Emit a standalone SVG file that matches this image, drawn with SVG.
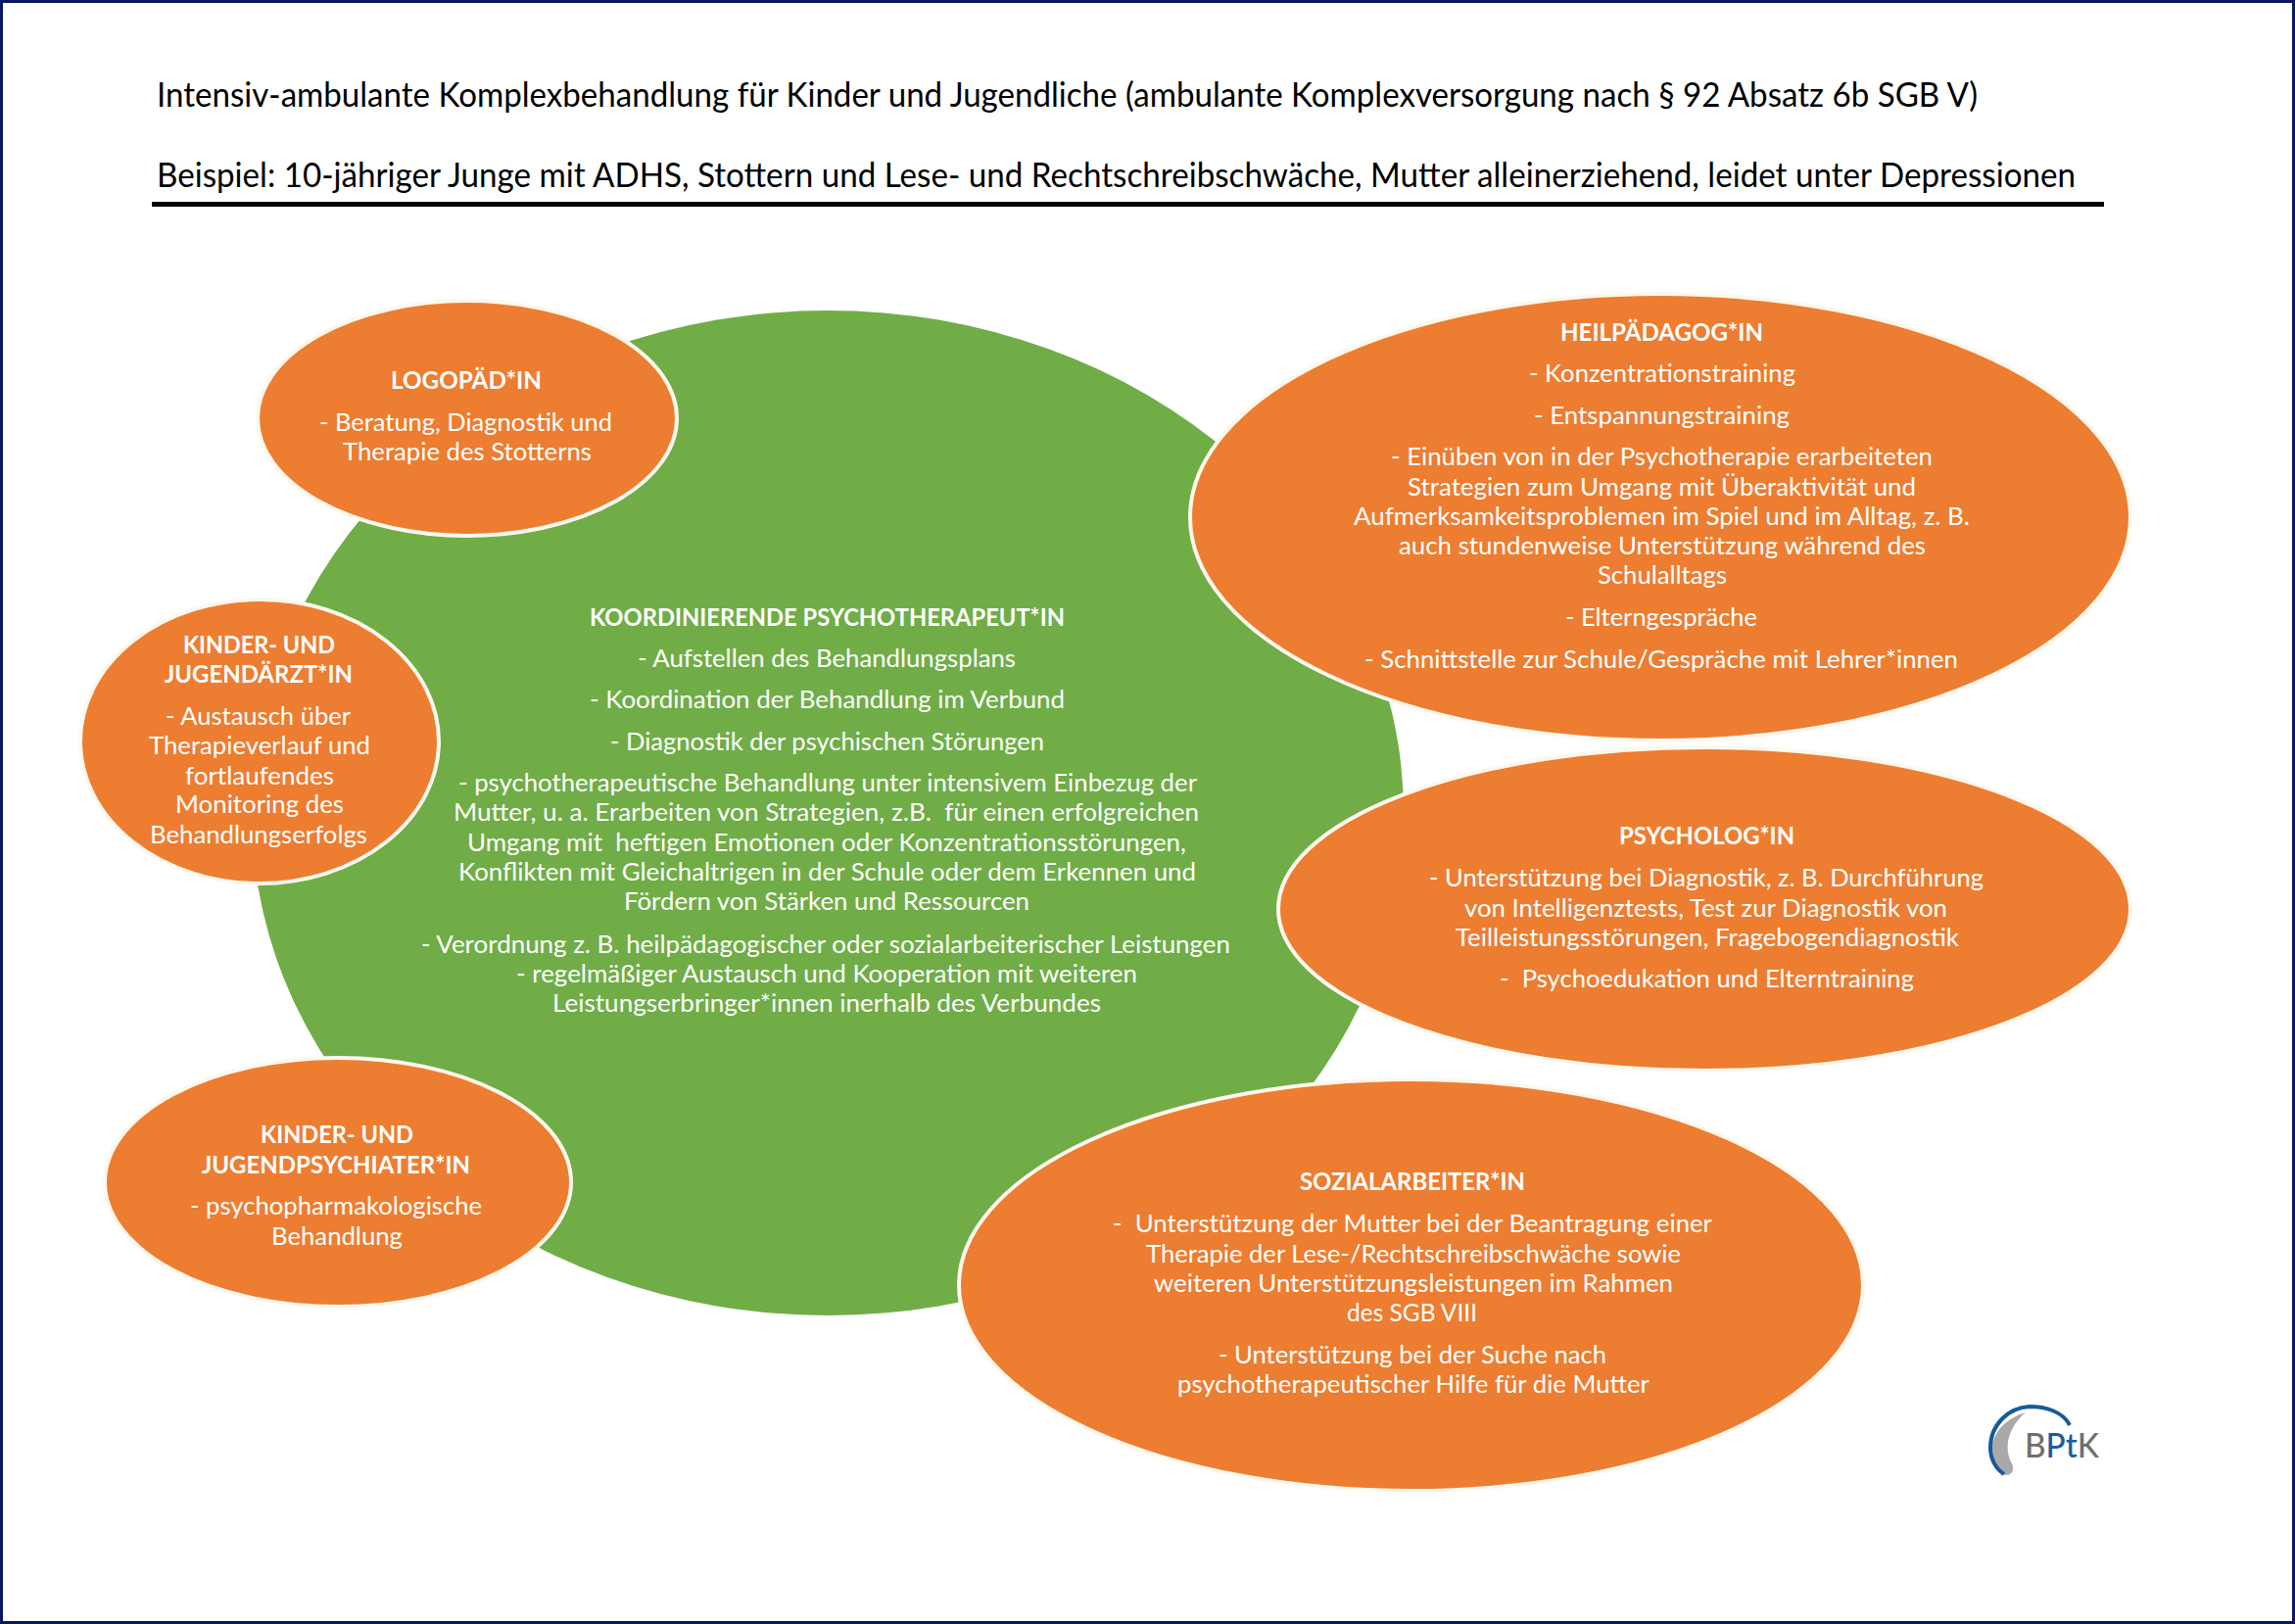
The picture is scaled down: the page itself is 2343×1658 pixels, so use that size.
<svg xmlns="http://www.w3.org/2000/svg" width="2343" height="1658" viewBox="0 0 2343 1658">
<style>
text{font-family:"Lato","Carlito","Liberation Sans",sans-serif;white-space:pre}
.t{font-size:34px;fill:#000}
.b{font-size:25px;fill:#fff}
.h{font-size:25px;font-weight:700;fill:#fff}
.e{fill:#ED7D31;stroke:#fdf8ee;stroke-width:4}
</style>
<rect width="2343" height="1658" fill="#fff"/>
<rect x="1.5" y="1.5" width="2340" height="1655" fill="none" stroke="#0b1a5e" stroke-width="3"/>
<g id="title">
<text class="t" x="160" y="109" textLength="1859" lengthAdjust="spacingAndGlyphs">Intensiv-ambulante Komplexbehandlung für Kinder und Jugendliche (ambulante Komplexversorgung nach § 92 Absatz 6b SGB V)</text>
<text class="t" x="160" y="191" textLength="1959" lengthAdjust="spacingAndGlyphs">Beispiel: 10-jähriger Junge mit ADHS, Stottern und Lese- und Rechtschreibschwäche, Mutter alleinerziehend, leidet unter Depressionen</text>
<rect x="155" y="206" width="1993" height="5" fill="#000"/>
</g>
<g id="koordinierende-psychotherapeutin">
<ellipse cx="845" cy="830" rx="588" ry="513" fill="#70AD47"/>
<text class="h" x="602" y="639" textLength="485" lengthAdjust="spacingAndGlyphs">KOORDINIERENDE PSYCHOTHERAPEUT*IN</text>
<text class="b" x="651" y="681" textLength="386" lengthAdjust="spacingAndGlyphs">- Aufstellen des Behandlungsplans</text>
<text class="b" x="602" y="723" textLength="485" lengthAdjust="spacingAndGlyphs">- Koordination der Behandlung im Verbund</text>
<text class="b" x="623" y="766" textLength="443" lengthAdjust="spacingAndGlyphs">- Diagnostik der psychischen Störungen</text>
<text class="b" x="468" y="808" textLength="754" lengthAdjust="spacingAndGlyphs">- psychotherapeutische Behandlung unter intensivem Einbezug der</text>
<text class="b" x="463" y="838" textLength="761" lengthAdjust="spacingAndGlyphs">Mutter, u. a. Erarbeiten von Strategien, z.B.  für einen erfolgreichen</text>
<text class="b" x="477" y="869" textLength="734" lengthAdjust="spacingAndGlyphs">Umgang mit  heftigen Emotionen oder Konzentrationsstörungen,</text>
<text class="b" x="468" y="899" textLength="753" lengthAdjust="spacingAndGlyphs">Konflikten mit Gleichaltrigen in der Schule oder dem Erkennen und</text>
<text class="b" x="637" y="929" textLength="414" lengthAdjust="spacingAndGlyphs">Fördern von Stärken und Ressourcen</text>
<text class="b" x="430" y="973" textLength="826" lengthAdjust="spacingAndGlyphs">- Verordnung z. B. heilpädagogischer oder sozialarbeiterischer Leistungen</text>
<text class="b" x="527" y="1003" textLength="634" lengthAdjust="spacingAndGlyphs">- regelmäßiger Austausch und Kooperation mit weiteren</text>
<text class="b" x="564" y="1033" textLength="560" lengthAdjust="spacingAndGlyphs">Leistungserbringer*innen inerhalb des Verbundes</text>
</g>
<g id="logopaedin">
<ellipse class="e" cx="477" cy="427" rx="214" ry="120"/>
<text class="h" x="399" y="397" textLength="154" lengthAdjust="spacingAndGlyphs">LOGOPÄD*IN</text>
<text class="b" x="326" y="440" textLength="299" lengthAdjust="spacingAndGlyphs">- Beratung, Diagnostik und</text>
<text class="b" x="350" y="470" textLength="254" lengthAdjust="spacingAndGlyphs">Therapie des Stotterns</text>
</g>
<g id="kinder-und-jugendaerztin">
<ellipse class="e" cx="265" cy="757" rx="183" ry="145"/>
<text class="h" x="187" y="667" textLength="155" lengthAdjust="spacingAndGlyphs">KINDER- UND</text>
<text class="h" x="168" y="697" textLength="192" lengthAdjust="spacingAndGlyphs">JUGENDÄRZT*IN</text>
<text class="b" x="169" y="740" textLength="189" lengthAdjust="spacingAndGlyphs">- Austausch über</text>
<text class="b" x="152" y="770" textLength="226" lengthAdjust="spacingAndGlyphs">Therapieverlauf und</text>
<text class="b" x="189" y="801" textLength="152" lengthAdjust="spacingAndGlyphs">fortlaufendes</text>
<text class="b" x="179" y="830" textLength="172" lengthAdjust="spacingAndGlyphs">Monitoring des</text>
<text class="b" x="153" y="861" textLength="222" lengthAdjust="spacingAndGlyphs">Behandlungserfolgs</text>
</g>
<g id="kinder-und-jugendpsychiaterin">
<ellipse class="e" cx="345" cy="1207" rx="238" ry="127"/>
<text class="h" x="266" y="1167" textLength="156" lengthAdjust="spacingAndGlyphs">KINDER- UND</text>
<text class="h" x="206" y="1198" textLength="274" lengthAdjust="spacingAndGlyphs">JUGENDPSYCHIATER*IN</text>
<text class="b" x="194" y="1240" textLength="298" lengthAdjust="spacingAndGlyphs">- psychopharmakologische</text>
<text class="b" x="277" y="1271" textLength="134" lengthAdjust="spacingAndGlyphs">Behandlung</text>
</g>
<g id="heilpaedagogin">
<ellipse class="e" cx="1695" cy="528" rx="480" ry="228"/>
<text class="h" x="1593" y="348" textLength="207" lengthAdjust="spacingAndGlyphs">HEILPÄDAGOG*IN</text>
<text class="b" x="1561" y="390" textLength="272" lengthAdjust="spacingAndGlyphs">- Konzentrationstraining</text>
<text class="b" x="1566" y="433" textLength="261" lengthAdjust="spacingAndGlyphs">- Entspannungstraining</text>
<text class="b" x="1420" y="475" textLength="553" lengthAdjust="spacingAndGlyphs">- Einüben von in der Psychotherapie erarbeiteten</text>
<text class="b" x="1437" y="506" textLength="519" lengthAdjust="spacingAndGlyphs">Strategien zum Umgang mit Überaktivität und</text>
<text class="b" x="1382" y="536" textLength="629" lengthAdjust="spacingAndGlyphs">Aufmerksamkeitsproblemen im Spiel und im Alltag, z. B.</text>
<text class="b" x="1428" y="566" textLength="538" lengthAdjust="spacingAndGlyphs">auch stundenweise Unterstützung während des</text>
<text class="b" x="1631" y="596" textLength="132" lengthAdjust="spacingAndGlyphs">Schulalltags</text>
<text class="b" x="1598" y="639" textLength="196" lengthAdjust="spacingAndGlyphs">- Elterngespräche</text>
<text class="b" x="1393" y="682" textLength="606" lengthAdjust="spacingAndGlyphs">- Schnittstelle zur Schule/Gespräche mit Lehrer*innen</text>
</g>
<g id="psychologin">
<ellipse class="e" cx="1740" cy="928" rx="435" ry="165"/>
<text class="h" x="1653" y="862" textLength="179" lengthAdjust="spacingAndGlyphs">PSYCHOLOG*IN</text>
<text class="b" x="1459" y="905" textLength="566" lengthAdjust="spacingAndGlyphs">- Unterstützung bei Diagnostik, z. B. Durchführung</text>
<text class="b" x="1495" y="936" textLength="493" lengthAdjust="spacingAndGlyphs">von Intelligenztests, Test zur Diagnostik von</text>
<text class="b" x="1486" y="966" textLength="514" lengthAdjust="spacingAndGlyphs">Teilleistungsstörungen, Fragebogendiagnostik</text>
<text class="b" x="1531" y="1008" textLength="423" lengthAdjust="spacingAndGlyphs">-  Psychoedukation und Elterntraining</text>
</g>
<g id="sozialarbeiterin">
<ellipse class="e" cx="1440.5" cy="1312" rx="461.5" ry="210"/>
<text class="h" x="1327" y="1215" textLength="230" lengthAdjust="spacingAndGlyphs">SOZIALARBEITER*IN</text>
<text class="b" x="1136" y="1258" textLength="612" lengthAdjust="spacingAndGlyphs">-  Unterstützung der Mutter bei der Beantragung einer</text>
<text class="b" x="1170" y="1289" textLength="546" lengthAdjust="spacingAndGlyphs">Therapie der Lese-/Rechtschreibschwäche sowie</text>
<text class="b" x="1178" y="1319" textLength="530" lengthAdjust="spacingAndGlyphs">weiteren Unterstützungsleistungen im Rahmen</text>
<text class="b" x="1375" y="1349" textLength="133" lengthAdjust="spacingAndGlyphs">des SGB VIII</text>
<text class="b" x="1244" y="1392" textLength="396" lengthAdjust="spacingAndGlyphs">- Unterstützung bei der Suche nach</text>
<text class="b" x="1202" y="1422" textLength="482" lengthAdjust="spacingAndGlyphs">psychotherapeutischer Hilfe für die Mutter</text>
</g>
<g id="bptk-logo">
<path d="M2068,1442 C2048,1448 2034,1462 2034,1480 C2034,1492 2040,1503 2047,1506 C2054,1507 2057,1500 2054,1494 C2048,1484 2045,1462 2068,1442Z" fill="#a9a9a9"/>
<path d="M2113,1455 C2106,1441 2088,1436 2072,1436 C2050,1437 2032,1455 2032,1478 C2032,1490 2038,1500 2046,1505" fill="none" stroke="#17599b" stroke-width="4"/>
<text x="2067" y="1488" font-size="35" font-weight="500" textLength="76" lengthAdjust="spacingAndGlyphs" fill="#6f6f6f">B<tspan fill="#1d5c9c">Pt</tspan>K</text>
</g>
</svg>
